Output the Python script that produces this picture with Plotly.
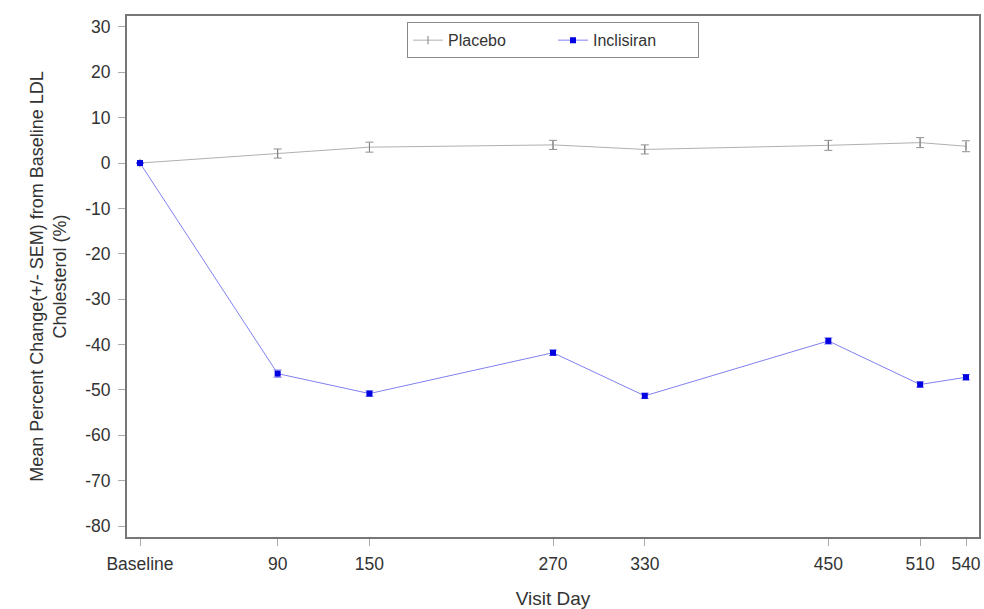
import plotly.graph_objects as go

visit_days = [0, 90, 150, 270, 330, 450, 510, 540]
tick_labels = ["Baseline", "90", "150", "270", "330", "450", "510", "540"]
y_ticks = [30, 20, 10, 0, -10, -20, -30, -40, -50, -60, -70, -80]
y_tick_labels = ["30", "20", "10", "0", "-10", "-20", "-30", "-40", "-50", "-60", "-70", "-80"]

placebo_mean = [0.0, 2.1, 3.5, 4.0, 3.0, 3.9, 4.5, 3.7]
placebo_sem = [0.0, 1.0, 1.1, 1.0, 1.0, 1.1, 1.1, 1.2]

inclisiran_mean = [0.0, -46.4, -50.8, -41.8, -51.3, -39.2, -48.8, -47.2]
inclisiran_sem = [0.0, 0.8, 0.6, 0.6, 0.6, 0.7, 0.6, 0.6]

fig = go.Figure()
fig.add_trace(go.Scatter(
    x=visit_days, y=placebo_mean, name="Placebo", mode="lines+markers",
    line=dict(color="#b0b0b0", width=1),
    marker=dict(symbol="line-ns", size=6, color="#808080", line=dict(color="#808080", width=1)),
    error_y=dict(type="data", array=placebo_sem, visible=True, color="#909090", thickness=1, width=4),
))
fig.add_trace(go.Scatter(
    x=visit_days, y=inclisiran_mean, name="Inclisiran", mode="lines+markers",
    line=dict(color="#8080f0", width=1),
    marker=dict(symbol="square", size=6, color="#0000e0"),
    error_y=dict(type="data", array=inclisiran_sem, visible=True, color="#8080f0", thickness=1, width=4),
))

font = "Liberation Sans, Arial, sans-serif"
fig.update_layout(
    width=984, height=609,
    margin=dict(l=127, r=5, t=16, b=72),
    paper_bgcolor="white", plot_bgcolor="white",
    font=dict(family=font, size=17.5, color="#333"),
    showlegend=True,
    legend=dict(orientation="h", x=0.5, xanchor="center", y=0.988, yanchor="top",
                bordercolor="#888", borderwidth=1, bgcolor="white",
                font=dict(size=16), entrywidth=100, entrywidthmode="pixels",
                tracegroupgap=0),
    xaxis=dict(
        range=[-8.5, 548.5], tickvals=visit_days, ticktext=tick_labels,
        showgrid=False, zeroline=False, showline=True, mirror=True, automargin=False,
        linecolor="#777", linewidth=2, ticks="outside", ticklen=7, tickcolor="#aaa",
        ticklabelstandoff=3,
        title=dict(text="Visit Day", font=dict(size=19), standoff=20),
    ),
    yaxis=dict(
        range=[-82.4, 32.4], tickvals=y_ticks, ticktext=y_tick_labels, automargin=False,
        showgrid=False, zeroline=False, showline=True, mirror=True,
        linecolor="#777", linewidth=2, ticks="outside", ticklen=7, tickcolor="#aaa",
        ticklabelstandoff=4,
        title=dict(text="Mean Percent Change(+/- SEM) from Baseline LDL<br>Cholesterol (%)",
                   font=dict(size=18), standoff=14),
    ),
)

fig.write_html("out.html", config={"displayModeBar": False},
               post_script="document.body.style.margin='0';")
